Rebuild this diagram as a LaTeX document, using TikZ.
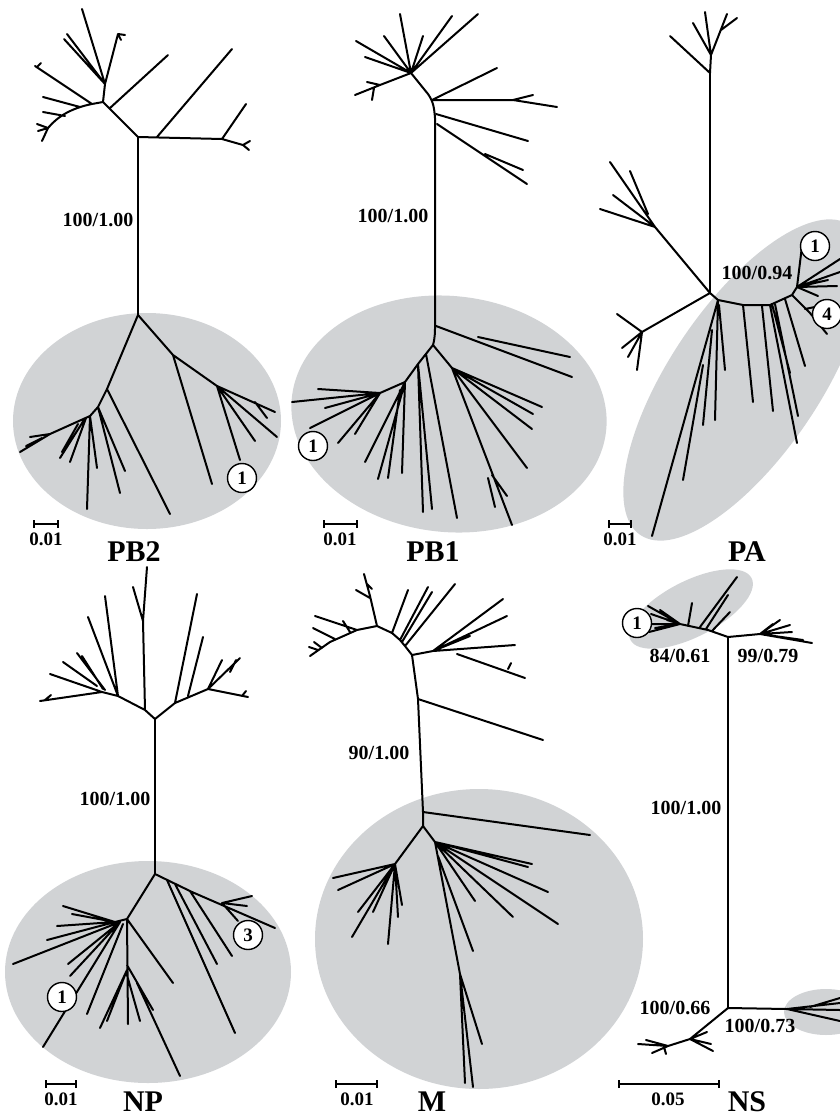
\documentclass[tikz,border=0pt]{standalone}
\usepackage{fontspec}
\setmainfont{Liberation Serif}
\usetikzlibrary{arrows.meta}
\definecolor{CladeGray}{HTML}{D1D3D5}

\begin{document}
\begin{tikzpicture}[x=1pt, y=-1pt,
    branch/.style={draw=black, line width=2pt, line join=round, line cap=round},
    clade/.style={fill=CladeGray},
    support/.style={font=\fontsize{20}{21}\selectfont\bfseries, inner sep=0pt},
    panel/.style={font=\fontsize{30}{32}\selectfont\bfseries, inner sep=0pt},
    tag/.style={circle, draw=black, line width=1.4pt, fill=white, minimum size=29pt,
      inner sep=0pt, font=\fontsize{19}{19}\selectfont\bfseries},
    scalebar/.style={line width=2pt, {Bar[width=8pt]}-{Bar[width=8pt]}},
    scalenote/.style={font=\fontsize{19}{20}\selectfont\bfseries, inner sep=0pt}
  ]
  \clip (0,0) rectangle (840,1120);

  % Shaded clades
  \fill[clade] (147,421) ellipse [x radius=134, y radius=108];
  \fill[clade, rotate around={-6:(449,414)}] (449,414) ellipse [x radius=158, y radius=118];
  \fill[clade, rotate around={56:(745,380)}] (745,380) ellipse [x radius=187, y radius=75];
  \fill[clade] (148,972) ellipse [x radius=143, y radius=111];
  \fill[clade] (479,939) ellipse [x radius=164, y radius=150];
  \fill[clade, rotate around={27:(691,609)}] (691,609) ellipse [x radius=68, y radius=28];
  \fill[clade] (826,1012) ellipse [x radius=42, y radius=23];

  % PB2
  \coordinate (pbtwoU) at (138,137);
  \coordinate (pbtwoL) at (138,315);
  \coordinate (pbtwoA) at (103,102);
  \coordinate (pbtwoB) at (105,84);
  \coordinate (pbtwoC) at (107,389);
  \coordinate (pbtwoD) at (173,355);
  \coordinate (pbtwoE) at (217,386);
  \draw[branch] (pbtwoU) -- (pbtwoL);
  \draw[branch] (pbtwoU) -- (pbtwoA) -- (pbtwoB) -- (82,9)
    (pbtwoB) -- (67,34) (pbtwoB) -- (64,39) (pbtwoB) -- (118,34) -- (125,35) (118,34) -- (121,40)
    (110,108) -- (168,55)
    (pbtwoA) -- (92,104) .. controls (72,108) and (58,116) .. (48,128) -- (37,124)
    (48,128) -- (42,141) (48,128) -- (38,131)
    (92,104) -- (35,66) (37,67) -- (41,63)
    (80,107) -- (43,97) (65,116) -- (43,112);
  \draw[branch] (pbtwoU) -- (222,139) -- (243,145) -- (250,141) (243,145) -- (249,150)
    (222,139) -- (246,104) (157,137) -- (232,49);
  \draw[branch] (pbtwoL) -- (pbtwoC) -- (98,407) -- (90,416) -- (50,434) -- (20,452)
    (50,434) -- (30,437) (42,438) -- (26,446)
    (84,420) -- (60,458) (78,424) -- (62,452) (86,418) -- (70,462)
    (90,416) -- (87,509) (90,416) -- (97,468)
    (98,407) -- (125,471) (98,407) -- (120,493)
    (pbtwoC) -- (170,514);
  \draw[branch] (pbtwoL) -- (pbtwoD) -- (pbtwoE) -- (275,412) (pbtwoE) -- (277,437)
    (pbtwoE) -- (255,441) (pbtwoE) -- (240,460) (255,402) -- (267,418)
    (pbtwoD) -- (212,484);
  \node[support] (pbtwoSupport) at (98,220) {100/1.00};
  \node[tag] (pbtwoTag) at (242,478) {1};
  \draw[scalebar] (33,524) -- (59,524);
  \node[scalenote] (pbtwoScale) at (46,539) {0.01};
  \node[panel] (pbtwoName) at (134,552) {PB2};

  % PB1
  \coordinate (pboneU) at (411,73);
  \coordinate (pboneL) at (433,345);
  \coordinate (pboneM) at (380,393);
  \coordinate (pboneR) at (452,368);
  \draw[branch] (pboneU) -- (428,94) to[out=-55,in=95] (435,118) -- (435,322)
    to[out=-90,in=75] (pboneL);
  \draw[branch] (pboneU) -- (400,14) (pboneU) -- (384,36) (pboneU) -- (356,41)
    (pboneU) -- (365,57) (pboneU) -- (423,36) (pboneU) -- (452,16) (pboneU) -- (478,14)
    (pboneU) -- (380,85) -- (355,95) (380,85) -- (367,82) (374,88) -- (372,100)
    (432,100) -- (497,68) (432,100) -- (513,100) -- (533,95) (513,100) -- (557,107)
    (436,114) -- (528,141)
    (437,124) -- (527,184) (485,154) -- (523,170);
  \draw[branch] (436,326) -- (572,377) (478,337) -- (570,357);
  \draw[branch] (pboneL) -- (418,364) -- (405,382) -- (pboneM) -- (292,402)
    (pboneM) -- (318,389) (pboneM) -- (325,408) (pboneM) -- (310,428)
    (pboneM) -- (338,443) (pboneM) -- (355,434)
    (405,382) -- (365,462) (405,382) -- (378,479) (405,382) -- (402,473) (400,390) -- (388,478)
    (418,364) -- (423,512) (418,364) -- (432,509)
    (426,354) -- (457,518);
  \draw[branch] (pboneL) -- (pboneR) -- (542,407) (pboneR) -- (533,414) (pboneR) -- (532,429)
    (pboneR) -- (527,468) (pboneR) -- (512,525) (492,475) -- (507,496) (488,478) -- (495,507);
  \node[support] (pboneSupport) at (393,216) {100/1.00};
  \node[tag] (pboneTag) at (313,446) {1};
  \draw[scalebar] (323,524) -- (358,524);
  \node[scalenote] (pboneScale) at (340,539) {0.01};
  \node[panel] (pboneName) at (433,552) {PB1};

  % PA
  \coordinate (paT) at (710,73);
  \coordinate (paN) at (710,293);
  \coordinate (paF) at (711,55);
  \coordinate (paW) at (655,227);
  \coordinate (paS) at (642,332);
  \coordinate (paE) at (797,287);
  \draw[branch] (paT) -- (paN);
  \draw[branch] (paT) -- (paF) -- (705,12) (paF) -- (693,23) (paF) -- (727,14)
    (721,30) -- (737,18) (paT) -- (670,36);
  \draw[branch] (paN) -- (paW) -- (610,162) (648,214) -- (630,171)
    (paW) -- (613,195) (paW) -- (600,209);
  \draw[branch] (paN) -- (paS) -- (617,314) (paS) -- (622,348) (paS) -- (628,357) (paS) -- (637,370);
  \draw[branch] (paN) -- (718,300) -- (743,305) -- (770,305) -- (792,295) -- (paE) -- (802,246)
    (paE) -- (840,259) (paE) -- (837,286) (paE) -- (818,296) (paE) -- (840,272) (paE) -- (828,280)
    (792,295) -- (810,313) -- (827,334) (805,309) -- (815,307);
  \draw[branch] (718,300) -- (652,536) (703,365) -- (683,480) (712,330) -- (703,425)
    (718,300) -- (715,420) (719,305) -- (725,370)
    (743,305) -- (753,402) (762,306) -- (773,411)
    (770,305) -- (797,443) (775,304) -- (798,416) (772,304) -- (790,373) (785,299) -- (805,366);
  \node[support] (paSupport) at (757,273) {100/0.94};
  \node[tag] (paTagA) at (815,246) {1};
  \node[tag] (paTagB) at (827,314) {4};
  \draw[scalebar] (608,524) -- (632,524);
  \node[scalenote] (paScale) at (620,539) {0.01};
  \node[panel] (paName) at (747,552) {PA};

  % NP
  \coordinate (npT) at (155,719);
  \coordinate (npB) at (155,874);
  \coordinate (npK) at (145,710);
  \coordinate (npV) at (143,621);
  \coordinate (npQ) at (118,696);
  \coordinate (npP) at (102,692);
  \coordinate (npR) at (175,703);
  \coordinate (npS) at (208,689);
  \coordinate (npC) at (127,919);
  \coordinate (npD) at (192,892);
  \draw[branch] (npT) -- (npB);
  \draw[branch] (npT) -- (npK) -- (npV) -- (147,567) (npV) -- (133,587)
    (npK) -- (npQ) -- (105,596) (npQ) -- (88,617)
    (npQ) -- (npP) -- (40,701) (45,700) -- (51,695) (npP) -- (50,674)
    (97,686) -- (63,662) (105,690) -- (77,653) (103,689) -- (82,656);
  \draw[branch] (npT) -- (npR) -- (197,594) (188,696) -- (203,637)
    (npR) -- (npS) -- (240,658) (npS) -- (248,697) (npS) -- (222,660) (230,672) -- (236,660)
    (242,696) -- (246,691);
  \draw[branch] (npB) -- (npC) -- (128,1024) (npC) -- (173,983)
    (npC) -- (115,922) -- (57,926) (115,922) -- (63,906) (115,922) -- (72,914)
    (115,922) -- (47,940) (120,922) -- (13,964)
    (120,922) -- (43,1047) (120,922) -- (68,964) (120,922) -- (70,976) (123,924) -- (87,1014)
    (127,970) -- (100,1028) (127,970) -- (107,1021) (127,975) -- (140,1021) (127,965) -- (153,1010)
    (137,983) -- (180,1076);
  \draw[branch] (npB) -- (npD) -- (275,928) (222,903) -- (252,896) (222,903) -- (247,906)
    (222,903) -- (238,921)
    (167,880) -- (235,1033) (175,884) -- (217,964) (190,891) -- (232,956);
  \node[support] (npSupport) at (115,799) {100/1.00};
  \node[tag] (npTagA) at (62,997) {1};
  \node[tag] (npTagB) at (248,935) {3};
  \draw[scalebar] (45,1084) -- (77,1084);
  \node[scalenote] (npScale) at (61,1099) {0.01};
  \node[panel] (npName) at (143,1102) {NP};

  % M
  \coordinate (mT) at (412,655);
  \coordinate (mB) at (423,826);
  \coordinate (mA) at (377,626);
  \coordinate (mW) at (310,656);
  \coordinate (mF) at (433,651);
  \coordinate (mC) at (395,864);
  \coordinate (mD) at (435,842);
  \coordinate (mG) at (460,974);
  \draw[branch] (mT) -- (418,699) -- (423,812) -- (mB);
  \draw[branch] (mT) -- (405,646) -- (400,640) -- (392,633) -- (mA) -- (370,596) -- (364,574)
    (370,598) -- (356,590) (367,584) -- (372,589)
    (mA) -- (357,630) -- (330,642) -- (mW) (318,650) -- (309,647) (322,648) -- (314,642)
    (357,630) -- (315,616) (335,639) -- (313,628) (350,632) -- (343,621)
    (392,633) -- (408,590) (400,640) -- (428,587) (402,642) -- (432,592) (405,646) -- (455,584)
    (mT) -- (mF) -- (503,599) (mF) -- (507,616) (mF) -- (515,645) (mF) -- (470,636)
    (457,654) -- (525,678) (508,669) -- (511,663)
    (418,699) -- (543,740) (423,812) -- (590,835);
  \draw[branch] (mB) -- (mC) -- (333,878) (mC) -- (338,890) (mC) -- (352,937) (mC) -- (388,944)
    (mC) -- (398,917) (mC) -- (402,905) (mC) -- (358,912) (mC) -- (373,912)
    (mB) -- (mD) -- (532,864) (mD) -- (548,892) (mD) -- (558,924) (mD) -- (513,917)
    (mD) -- (475,901) (mD) -- (528,867)
    (mD) -- (mG) -- (465,1083) (mG) -- (473,1087) (mG) -- (482,1044) (438,856) -- (473,951);
  \node[support] (mSupport) at (379,753) {90/1.00};
  \draw[scalebar] (335,1084) -- (378,1084);
  \node[scalenote] (mScale) at (357,1099) {0.01};
  \node[panel] (mName) at (432,1102) {M};

  % NS
  \coordinate (nsT) at (728,637);
  \coordinate (nsB) at (728,1008);
  \coordinate (nsF) at (680,624);
  \coordinate (nsR) at (760,634);
  \coordinate (nsE) at (787,1009);
  \coordinate (nsS) at (690,1039);
  \coordinate (nsW) at (668,1046);
  \draw[branch] (nsT) -- (nsB);
  \draw[branch] (nsT) -- (708,630) -- (nsF) -- (649,632) (nsF) -- (648,606) (nsF) -- (651,614)
    (nsF) -- (651,624) (nsF) -- (655,628) (nsF) -- (660,610) (nsF) -- (665,615) (nsF) -- (667,620)
    (688,626) -- (692,603) (700,627) -- (737,577) (706,629) -- (728,595) (712,631) -- (730,612);
  \draw[branch] (nsT) -- (nsR) -- (780,620) (nsR) -- (790,625) (nsR) -- (812,643)
    (nsR) -- (792,632) (nsR) -- (803,640) (nsR) -- (773,624);
  \draw[branch] (nsB) -- (nsE) -- (840,1003) (nsE) -- (840,1021) (nsE) -- (840,1010)
    (810,1007) -- (840,998);
  \draw[branch] (nsB) -- (nsS) -- (nsW) -- (638,1044) (nsW) -- (652,1053) (nsW) -- (646,1040)
    (664,1047) -- (666,1054)
    (nsS) -- (707,1032) (nsS) -- (713,1051) (nsS) -- (711,1044);
  \node[support] (nsSupportA) at (680,656) {84/0.61};
  \node[support] (nsSupportB) at (768,656) {99/0.79};
  \node[support] (nsSupportC) at (686,808) {100/1.00};
  \node[support] (nsSupportD) at (675,1008) {100/0.66};
  \node[support] (nsSupportE) at (760,1026) {100/0.73};
  \node[tag] (nsTag) at (637,623) {1};
  \draw[scalebar] (618,1084) -- (720,1084);
  \node[scalenote] (nsScale) at (668,1099) {0.05};
  \node[panel] (nsName) at (747,1102) {NS};

\end{tikzpicture}
\end{document}
